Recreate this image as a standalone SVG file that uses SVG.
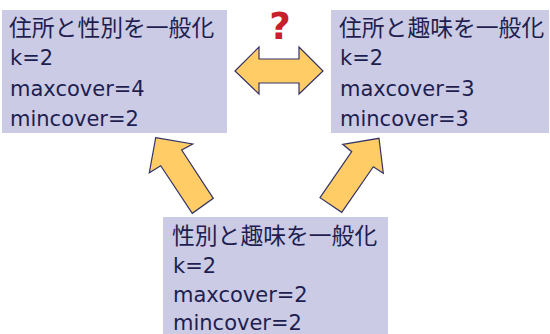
<svg xmlns="http://www.w3.org/2000/svg" width="550" height="334" viewBox="0 0 550 334">
<style>
.box{fill:#CBCBE5;}
.t{font-family:"DejaVu Sans","Noto Sans CJK JP",sans-serif;font-size:21px;fill:#1E1E50;}
.j{font-family:"Noto Sans CJK JP",sans-serif;font-size:22.8px;fill:#1E1E50;}
.arr{fill:#FFCC66;stroke:#333366;stroke-width:1.2;stroke-linejoin:miter;}
.q{font-family:"DejaVu Sans",sans-serif;font-weight:bold;font-size:37px;fill:#C8202A;}
</style>
<g id="connectors">
<polygon class="arr" points="235,71 259,47 259,59 299,59 299,47 323,71 299,94 299,83 259,83 259,94"/>
<polygon class="arr" points="155.7,137.7 192.7,144 181.7,150 213.3,198.3 192.3,213.3 160.7,165.7 149.3,172.7"/>
<polygon class="arr" points="379,138.3 383.3,173.3 373.3,166.7 341.7,212.3 320,197.7 351.7,151.7 342.7,144.3"/>
<text class="q" x="280" y="39" text-anchor="middle">?</text>
</g>
<g id="node1">
<rect class="box" x="2" y="10" width="225" height="123"/>
<text class="j" x="9" y="36">住所と性別を一般化</text>
<text class="t" x="10" y="65">k=2</text>
<text class="t" x="10" y="96">maxcover=4</text>
<text class="t" x="10" y="126">mincover=2</text>
</g>
<g id="node2">
<rect class="box" x="331" y="10" width="218" height="123"/>
<text class="j" x="339" y="36">住所と趣味を一般化</text>
<text class="t" x="340" y="65">k=2</text>
<text class="t" x="340" y="96">maxcover=3</text>
<text class="t" x="340" y="126">mincover=3</text>
</g>
<g id="node3">
<rect class="box" x="163" y="217" width="225" height="117"/>
<text class="j" x="172" y="244">性別と趣味を一般化</text>
<text class="t" x="173" y="273">k=2</text>
<text class="t" x="173" y="302">maxcover=2</text>
<text class="t" x="173" y="330">mincover=2</text>
</g>
</svg>
